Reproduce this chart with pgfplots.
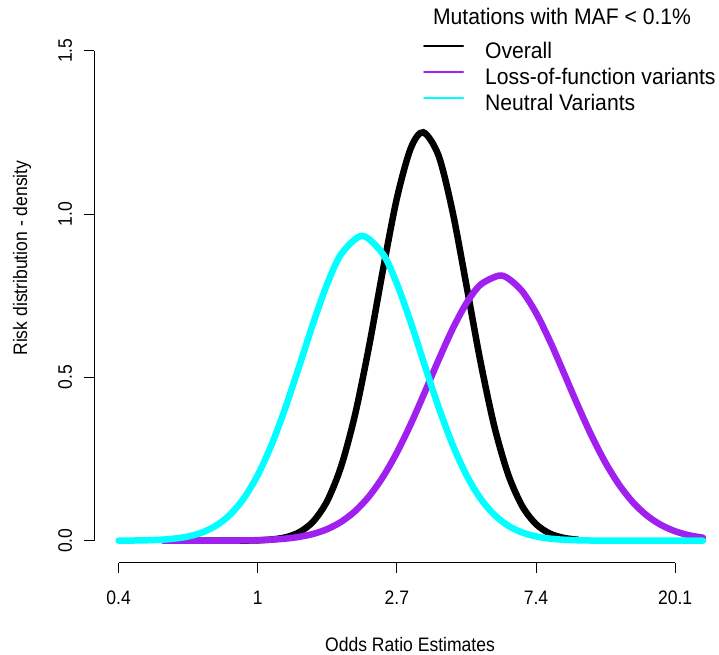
\documentclass[border=0pt]{standalone}
\usepackage{fontspec}
\setmainfont{Liberation Sans}[FakeStretch=0.9]
\newfontfamily\legfont{Liberation Sans}[FakeStretch=0.94]
\usepackage{pgfplots}
\pgfplotsset{compat=1.18}

\definecolor{rpurple}{HTML}{A020F0}
\definecolor{rcyan}{HTML}{00FFFF}
\newcommand\axfont{\fontsize{19.5}{20}\selectfont}
\newcommand\lgfont{\legfont\fontsize{22.5}{23}\selectfont}

\begin{document}
\begin{tikzpicture}
\useasboundingbox (0pt,0pt) rectangle (719pt,654pt);
\begin{axis}[
    at={(94.3pt,91.3pt)}, anchor=south west,
    scale only axis,
    width=624.7pt, height=542.7pt,
    xmin=-1.175, xmax=3.3156,
    ymin=-0.0673, ymax=1.5938,
    clip=false,
    axis x line*=bottom, axis y line*=left,
    axis line style={draw=none},
    tick align=outside,
    major tick length=10pt,
    every tick/.style={black, line width=0.9pt},
    xtick={-1,0,1,2,3},
    xticklabels={0.4,1,2.7,7.4,20.1},
    ytick={0,0.5,1,1.5},
    yticklabels={0.0,0.5,1.0,1.5},
    /pgf/number format/assume math mode=true,
    tick label style={font=\axfont},
    xticklabel style={anchor=north, inner sep=0pt, yshift=-18pt},
    yticklabel style={xshift=-12pt, rotate=90, anchor=south, inner sep=0pt},
    xlabel={Odds Ratio Estimates},
    xlabel style={font=\axfont, at={(axis description cs:0.5054,-0.1505)}, anchor=center},
    ylabel={Risk distribution - density},
    ylabel style={font=\axfont, at={(axis description cs:-0.1157,0.5614)}, anchor=center, rotate=0},
    title={Mutations with MAF < 0.1\%},
    title style={font=\lgfont, at={(axis description cs:0.7487,0.995)}, anchor=center},
    legend style={draw=none, fill=none, inner sep=0pt,
        at={(axis description cs:0.5261,0.9595)}, anchor=north west,
        font=\lgfont, row sep=5pt,
        nodes={inner sep=0pt, text height=16.5pt, text depth=4.5pt}},
    legend cell align=left,
    every legend image post/.append style={line width=2pt},
    legend image code/.code={
        \draw (0pt,7pt) -- (39pt,7pt);
        \path (0pt,7pt) (60pt,7pt);
    },
]
% overall
\addplot[black, line width=6.5pt, line cap=round, smooth] coordinates {
 (-0.6,0) (-0.4,0) (-0.2,0.0001) (-0.1,0.0005)
 (0.0,0.0012) (0.1,0.0038) (0.2,0.0104) (0.3,0.0261) (0.4,0.0594)
 (0.5,0.1223) (0.6,0.2284) (0.7,0.3870) (0.8,0.5948) (0.9,0.8291)
 (1.0,1.0480) (1.1,1.2015) (1.19,1.25) (1.3,1.1783) (1.4,1.0079)
 (1.5,0.7819) (1.6,0.5502) (1.7,0.3510) (1.8,0.2031) (1.9,0.1066)
 (2.0,0.0508) (2.1,0.0219) (2.2,0.0086) (2.3,0.0030)
};
\addlegendentry{Overall}
% loss of function
\addplot[rpurple, line width=6.5pt, line cap=round, smooth] coordinates {
 (-0.68,0) (-0.6,0) (-0.5,0.00003) (-0.4,0.0001) (-0.3,0.0002)
 (-0.2,0.0004) (-0.1,0.0008) (0.0,0.0017) (0.1,0.0034) (0.2,0.0064)
 (0.3,0.0119) (0.4,0.0210) (0.5,0.0356) (0.6,0.0580) (0.7,0.0906)
 (0.8,0.1358) (0.9,0.1954) (1.0,0.2697) (1.1,0.3572) (1.2,0.4539)
 (1.3,0.5536) (1.4,0.6476) (1.5,0.7270) (1.6,0.7832) (1.73,0.811)
 (1.8,0.8028) (1.9,0.7640) (2.0,0.6976) (2.1,0.6113) (2.2,0.5139)
 (2.3,0.4145) (2.4,0.3208) (2.5,0.2383) (2.6,0.1698) (2.7,0.1161)
 (2.8,0.0762) (2.9,0.0480) (3.0,0.0290) (3.1,0.0168) (3.2,0.0093)
};
\addlegendentry{Loss-of-function variants}
% neutral
\addplot[rcyan, line width=6.5pt, line cap=round, smooth] coordinates {
 (-1.0,0.0002) (-0.9,0.0006) (-0.8,0.0013) (-0.7,0.0030) (-0.6,0.0064)
 (-0.5,0.0131) (-0.4,0.0253) (-0.3,0.0460) (-0.2,0.0795) (-0.1,0.1299)
 (0.0,0.2010) (0.1,0.2945) (0.2,0.4087) (0.3,0.5369) (0.4,0.6679)
 (0.5,0.7867) (0.6,0.8774) (0.75,0.933) (0.9,0.8774)
 (1.0,0.7867) (1.1,0.6679) (1.2,0.5369) (1.3,0.4087) (1.4,0.2945)
 (1.5,0.2010) (1.6,0.1299) (1.7,0.0795) (1.8,0.0460) (1.9,0.0253)
 (2.0,0.0131) (2.1,0.0064) (2.2,0.0030) (2.3,0.0013) (2.4,0.0006)
 (2.5,0.0002) (2.6,0.0001) (2.8,0) (3.0,0) (3.2,0)
};
\addlegendentry{Neutral Variants}
% axis lines spanning the tick range only
\draw[black, line width=0.9pt] (axis cs:-1,-0.0673) -- (axis cs:3,-0.0673);
\draw[black, line width=0.9pt] (axis cs:-1.175,0) -- (axis cs:-1.175,1.5);
\end{axis}
\end{tikzpicture}
\end{document}
